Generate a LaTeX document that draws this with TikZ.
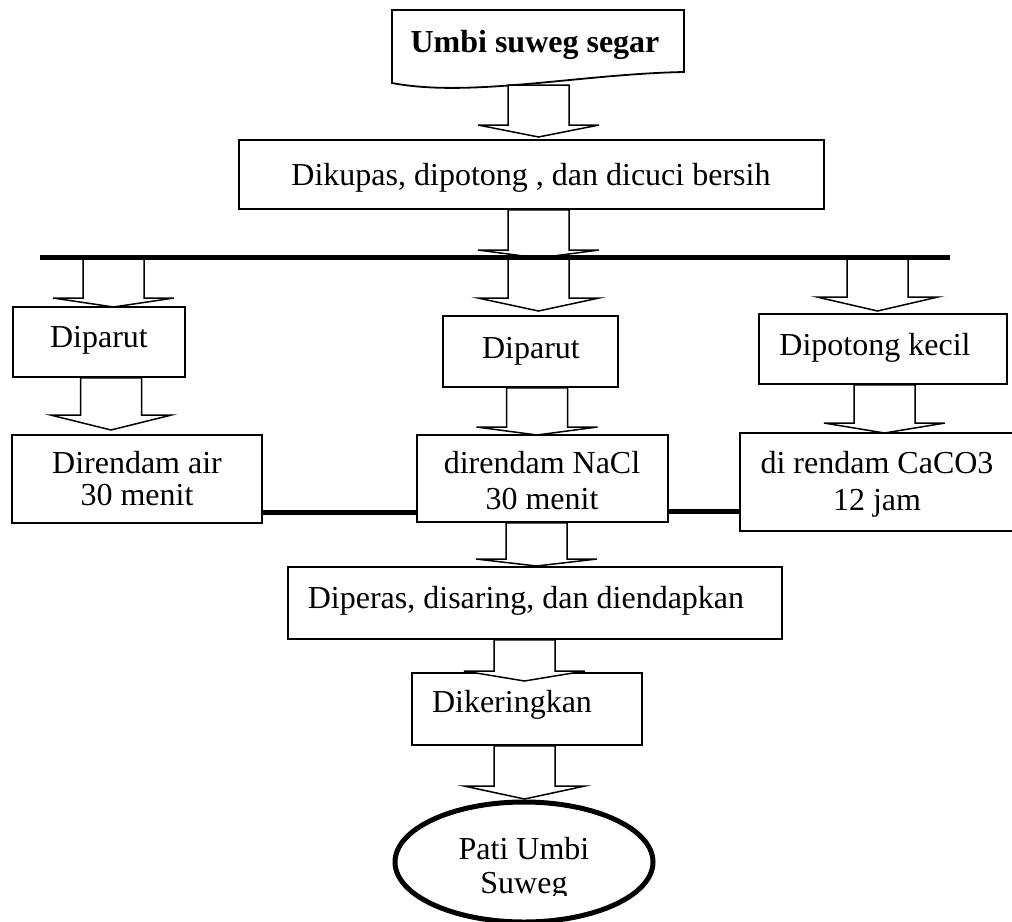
\documentclass[tikz,border=0pt]{standalone}
\usepackage{fontspec}
\setmainfont{Liberation Serif}
\usetikzlibrary{calc,shapes.geometric}
\newcommand\boxn[5]{%
  \node[box, minimum width={(#4-#2)*1pt}, minimum height={(#5-#3)*1pt}] (#1) at ({(#2+#4)/2},{(#3+#5)/2}) {};}
\newcommand\txt[4]{\node[lbl] (#1) at (#2,#3) {#4};}
% block arrow: #1 source node, #2 centre x, #3 wing y, #4 tip y
\newcommand\barrow[4]{%
  \coordinate (bl) at ({#2-30.5},#3);
  \coordinate (br) at ({#2+30.5},#3);
  \filldraw[blk] (#1.south -| bl) -- (bl) -- ($(bl)+(-30,0)$) -- (#2,#4) -- ($(br)+(30,0)$) -- (br) -- (#1.south -| br) -- cycle;}
\begin{document}
\begin{tikzpicture}[x=1pt,y=-1pt,
  box/.style={draw, line width=1.8pt, fill=white, inner sep=0pt},
  lbl/.style={anchor=base, inner sep=0pt, font=\fontsize{32}{38}\selectfont},
  blk/.style={draw=black, fill=white, line width=1.5pt, line join=miter},
  heavy/.style={line width=5pt}]
\useasboundingbox (0,0) rectangle (1012,921);
\clip (0,0) rectangle (1012,921);

% top document shape
\draw[line width=1.8pt, fill=white] (392,83) -- (392,10) -- (684,10) -- (684,72)
  .. controls (580,74) and (470,98) .. (392,83) -- cycle;
\node[inner sep=0pt, minimum width=292pt, minimum height=75pt] (top) at (538,47.5) {};
\node[lbl, font=\fontsize{32}{38}\selectfont\bfseries] (toptxt) at (535,52) {Umbi suweg segar};

% boxes
\boxn{cut}{239}{140}{824}{209}
\boxn{parL}{13}{307}{185}{377}
\boxn{parM}{443}{316}{618}{387}
\boxn{potR}{759}{314}{1007}{384}
\boxn{rndL}{12}{435}{262}{523}
\boxn{rndM}{417}{435}{668}{522}
\boxn{rndR}{740}{433}{1030}{531}
\boxn{peras}{288}{567}{782}{639}
\boxn{kering}{412}{673}{642}{745}
\node[draw, ellipse, line width=5pt, fill=white, inner sep=0pt,
  minimum width=258pt, minimum height=120pt] (pati) at (524,862) {};

% bus line node
\node[inner sep=0pt, minimum width=910pt, minimum height=0pt] (bus) at (495,257) {};

% texts
\txt{cuttxt}{531}{185}{Dikupas, dipotong , dan dicuci bersih}
\txt{parLtxt}{99}{347}{Diparut}
\txt{parMtxt}{531}{358}{Diparut}
\txt{potRtxt}{875}{355}{Dipotong kecil}
\txt{rndLa}{137}{473}{Direndam air}
\txt{rndLb}{137}{505}{30 menit}
\txt{rndMa}{542}{473}{direndam NaCl}
\txt{rndMb}{542}{509}{30 menit}
\txt{rndRa}{877}{473}{di rendam CaCO3}
\txt{rndRb}{877}{510}{12 jam}
\txt{perastxt}{526}{608}{Diperas, disaring, dan diendapkan}
\txt{keringtxt}{512}{712}{Dikeringkan}
\txt{patia}{524}{859}{Pati Umbi}
\begin{scope}
  \clip (0,0) rectangle (1012,895);
  \txt{patib}{524}{893}{Suweg}
\end{scope}

% block arrows
\barrow{top}{538.5}{125}{137}
\barrow{cut}{538.5}{250}{258}
\barrow{bus}{113.5}{298}{307}
\barrow{bus}{538.5}{298}{311}
\barrow{bus}{877.5}{297}{311}
\barrow{parL}{111}{415}{430}
\barrow{parM}{537}{427}{435}
\barrow{potR}{884.5}{423}{433}
\barrow{rndM}{536.5}{559}{566}
\barrow{peras}{524.5}{671}{681}
\barrow{kering}{524.5}{786}{799}

% heavy lines
\draw[heavy] (bus.west) -- (bus.east);
\draw[heavy] (rndL.east |- 0,512) -- (rndM.west |- 0,512);
\draw[heavy] (rndM.east |- 0,511) -- (rndR.west |- 0,511);
\end{tikzpicture}
\end{document}
